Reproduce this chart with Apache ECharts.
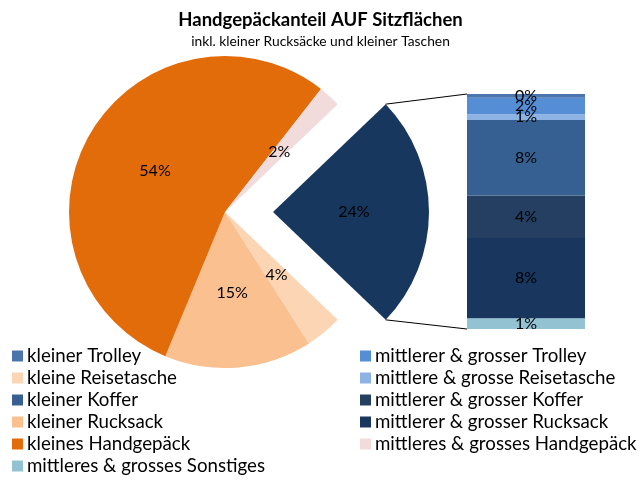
<!DOCTYPE html>
<html>
<head>
<meta charset="utf-8">
<script src="https://cdn.jsdelivr.net/npm/echarts@6/dist/echarts.min.js"></script>
<style>
  html, body { margin: 0; padding: 0; background: #fff; }
  #chart { width: 641px; height: 480px; }
</style>
</head>
<body>
<div id="chart"></div>
<script>
// Shares of hand luggage placed on seats (percent of all items)
const pieNames = ['kleine Reisetasche', 'kleiner Rucksack', 'kleines Handgepäck', 'mittleres & grosses Handgepäck'];
const pieValues = [3.8, 15.3, 54.3, 2.3];
const pieColors = ['#fcd5b4', '#fac090', '#e36c0a', '#f2dcdb'];

// Breakdown of the combined slice, stacked from bottom to top
const barNames = ['mittleres & grosses Sonstiges', 'mittlerer & grosser Rucksack', 'mittlerer & grosser Koffer',
  'kleiner Koffer', 'mittlere & grosse Reisetasche', 'mittlerer & grosser Trolley', 'kleiner Trolley'];
const barValues = [1.1, 8.3, 4.4, 7.8, 0.6, 1.7, 0.4];
const barColors = ['#93c3d3', '#18365e', '#253f62', '#366092', '#8db3e2', '#558ed5', '#4a76ad'];

const otherName = 'Weitere';
const otherColor = '#17375e';

const legendLeft = ['kleiner Trolley', 'kleine Reisetasche', 'kleiner Koffer', 'kleiner Rucksack',
  'kleines Handgepäck', 'mittleres & grosses Sonstiges'];
const legendRight = ['mittlerer & grosser Trolley', 'mittlere & grosse Reisetasche', 'mittlerer & grosser Koffer',
  'mittlerer & grosser Rucksack', 'mittleres & grosses Handgepäck'];

// layout
const FONT = 'Lato, "Open Sans", sans-serif';
const PIE_CX = 225, PIE_CY = 212, PIE_R = 156, EXPLODE = 48;
const BAR_LEFT = 467, BAR_TOP = 94, BAR_W = 118, BAR_H = 235;

const barTotal = barValues.reduce((a, b) => a + b, 0);
const pieTotal = pieValues.reduce((a, b) => a + b, 0) + barTotal;
const halfOtherDeg = barTotal / pieTotal * 360 / 2;

const pct = v => Math.round(v) + '%';

const pieData = [{
  name: otherName, value: barTotal, selected: true,
  itemStyle: { color: otherColor }
}].concat(pieNames.map((n, i) => ({ name: n, value: pieValues[i], itemStyle: { color: pieColors[i] } })));

const series = [{
  type: 'pie',
  center: [PIE_CX, PIE_CY],
  radius: PIE_R,
  startAngle: halfOtherDeg,
  clockwise: true,
  selectedMode: 'single',
  selectedOffset: EXPLODE,
  avoidLabelOverlap: false,
  silent: true,
  label: {
    show: true, position: 'inside', color: '#000',
    fontFamily: FONT, fontSize: 16,
    formatter: p => pct(p.value)
  },
  labelLine: { show: false },
  itemStyle: { borderWidth: 0 },
  select: { itemStyle: { color: otherColor } },
  data: pieData
}].concat(barNames.map((n, i) => ({
  type: 'bar',
  name: n,
  stack: 'rest',
  xAxisIndex: 0, yAxisIndex: 0,
  barWidth: '100%',
  silent: true,
  itemStyle: { color: barColors[i] },
  label: {
    show: true, position: 'inside', color: '#000',
    fontFamily: FONT, fontSize: 16,
    formatter: p => pct(p.value)
  },
  data: [barValues[i]]
})));

const legendCommon = {
  orient: 'vertical',
  selectedMode: false,
  icon: 'rect',
  itemWidth: 11, itemHeight: 11,
  itemGap: 0,
  padding: 0,
  top: 345,
  height: 140,
  textStyle: { color: '#000', fontFamily: FONT, fontSize: 18.7, lineHeight: 22, padding: [0, 0, 0, -1] }
};

const chart = echarts.init(document.getElementById('chart'), null, { renderer: 'canvas' });
chart.setOption({
  animation: false,
  backgroundColor: '#fff',
  title: {
    text: 'Handgepäckanteil AUF Sitzflächen',
    subtext: 'inkl. kleiner Rucksäcke und kleiner Taschen',
    left: 'center', top: 6, itemGap: 5,
    textStyle: { fontFamily: FONT, fontSize: 18.5, fontWeight: 'bold', color: '#000' },
    subtextStyle: { fontFamily: FONT, fontSize: 13.8, color: '#000' }
  },
  legend: [
    Object.assign({ left: 12, data: legendLeft }, legendCommon),
    Object.assign({ left: 360, data: legendRight }, legendCommon)
  ],
  grid: { left: BAR_LEFT, top: BAR_TOP, width: BAR_W, height: BAR_H },
  xAxis: { type: 'category', data: [''], show: false, boundaryGap: true },
  yAxis: { type: 'value', min: 0, max: barTotal, show: false },
  series: series
});

// connector lines between the exploded slice and the stacked bar
const yTop = chart.convertToPixel({ yAxisIndex: 0 }, barTotal);
const yBot = chart.convertToPixel({ yAxisIndex: 0 }, 0);
const a = halfOtherDeg * Math.PI / 180;
const ox = PIE_CX + EXPLODE;
const arcTop = [ox + PIE_R * Math.cos(a), PIE_CY - PIE_R * Math.sin(a)];
const arcBot = [ox + PIE_R * Math.cos(a), PIE_CY + PIE_R * Math.sin(a)];
chart.setOption({
  graphic: [
    { type: 'line', z: 100, shape: { x1: arcTop[0], y1: arcTop[1], x2: BAR_LEFT, y2: yTop }, style: { stroke: '#000', lineWidth: 1 } },
    { type: 'line', z: 100, shape: { x1: arcBot[0], y1: arcBot[1], x2: BAR_LEFT, y2: yBot }, style: { stroke: '#000', lineWidth: 1 } }
  ]
});
</script>
</body>
</html>
